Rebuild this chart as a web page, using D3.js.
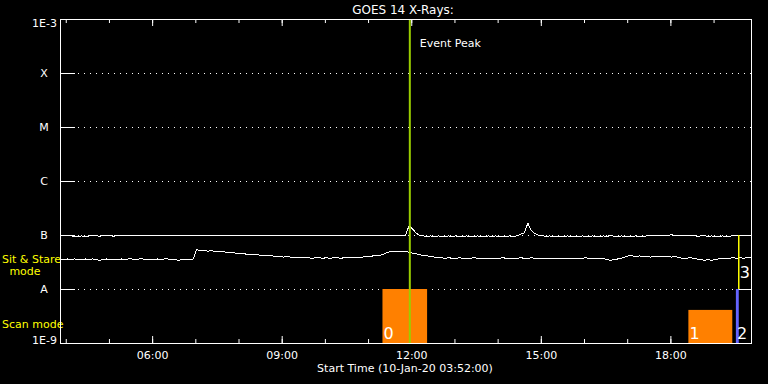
<!DOCTYPE html>
<html>
<head>
<meta charset="utf-8">
<script src="https://cdn.jsdelivr.net/npm/d3@7"></script>
<style>
  body { margin: 0; background: #000; }
  svg { display: block; }
  text { font-family: "DejaVu Sans", sans-serif; fill: #fff; }
</style>
</head>
<body>
<div id="chart"></div>
<script>
(function (d3) {
  'use strict';

  // ---- data ----
  const dayOf = [2020, 0, 10];
  const startClock = "03:52";
  const endClock = "19:52";
  const sampleMinutes = 5;

  // flux in units of 1e-9 W/m^2, one value every 5 minutes from 03:52
  const xrsUpper = [
    100, 100, 99, 97, 94, 95, 96, 93, 96, 97,
    97, 95, 98, 96, 97, 95, 97, 98, 96, 97,
    98, 97, 96, 98, 97, 99, 97, 98, 96, 98,
    97, 98, 99, 97, 98, 96, 98, 97, 99, 98,
    99, 97, 98, 99, 97, 98, 96, 98, 99, 97,
    98, 97, 99, 98, 97, 99, 98, 96, 98, 97,
    98, 99, 97, 98, 96, 98, 97, 99, 98, 97,
    98, 97, 99, 98, 96, 98, 97, 98, 99, 97,
    98, 97, 96, 98, 97, 99, 98, 97, 98, 99,
    98, 97, 99, 98, 97, 98, 99, 150, 128, 108,
    98, 96, 95, 96, 94, 96, 95, 93, 96, 95,
    96, 94, 95, 96, 93, 95, 96, 94, 95, 96,
    94, 96, 95, 93, 95, 96, 94, 97, 103, 110,
    165, 120, 106, 99, 97, 95, 96, 94, 95, 93,
    95, 96, 94, 95, 93, 96, 95, 94, 96, 95,
    94, 96, 95, 97, 95, 94, 96, 95, 93, 95,
    96, 94, 95, 96, 98, 97, 98, 96, 97, 99,
    101, 98, 99, 97, 98, 96, 97, 95, 96, 97,
    95, 96, 94, 95, 96, 94, 95, 97, 99, 100,
    100, 99, 100
  ];
  const xrsLower = [
    36, 35, 36, 35, 36, 35, 35, 36, 35, 36,
    35, 34, 35, 36, 35, 36, 35, 36, 35, 36,
    36, 35, 36, 36, 35, 36, 35, 36, 35, 36,
    36, 35, 35, 34, 35, 35, 35, 36, 54, 51,
    52, 50, 51, 50, 49, 50, 48, 48, 47, 46,
    46, 45, 44, 44, 43, 43, 42, 42, 41, 41,
    40, 40, 39, 40, 39, 39, 38, 39, 38, 38,
    37, 38, 38, 37, 38, 37, 38, 38, 37, 38,
    38, 39, 38, 39, 39, 40, 40, 41, 41, 42,
    44, 48, 49, 50, 50, 49, 49, 48, 46, 45,
    43, 42, 41, 40, 39, 38, 38, 37, 38, 37,
    37, 38, 37, 36, 37, 38, 37, 36, 37, 37,
    37, 36, 37, 38, 37, 37, 36, 37, 38, 37,
    37, 38, 37, 37, 36, 37, 37, 36, 37, 36,
    37, 36, 37, 37, 36, 37, 38, 37, 36, 37,
    36, 37, 35, 34, 35, 36, 37, 39, 41, 41,
    40, 41, 40, 40, 39, 40, 40, 39, 40, 40,
    39, 40, 38, 37, 37, 38, 37, 36, 35, 34,
    35, 34, 35, 36, 37, 36, 37, 38, 37, 38,
    37, 39, 38
  ];

  const classValues = [1e-8, 1e-7, 1e-6, 1e-5, 1e-4];
  const classLabels = ["A", "B", "C", "M", "X"];
  const decadeValues = [1e-9, 1e-3];
  const decadeLabels = ["1E-9", "1E-3"];

  const eventPeakClock = "11:58";

  const modeIds = ["0", "1", "2", "3"];
  const modeKinds = ["scan", "scan", "scanB", "stare"];
  const modeStart = ["11:20", "18:25", "19:31", "19:35"];
  const modeEnd = ["12:22", "19:26", "19:35", "19:52"];
  const modeTop = [1e-8, 4.1e-9, 1e-8, 1e-7];
  const modeBottom = [1e-9, 1e-9, 1e-9, 1e-8];

  // ---- setup ----
  const width = 768;
  const height = 384;
  const left = 60, right = 751, top = 19, bottom = 343;

  const at = function (s) {
    const p = s.split(":");
    return new Date(dayOf[0], dayOf[1], dayOf[2], +p[0], +p[1]);
  };
  const t0 = at(startClock);

  const x = d3.scaleTime()
    .domain([t0, at(endClock)])
    .range([left, right]);
  const y = d3.scaleLog()
    .domain([1e-9, 1e-3])
    .range([bottom, top]);

  const svg = d3.select("#chart").append("svg")
    .attr("width", width)
    .attr("height", height)
    .style("background", "#000");

  // dotted class levels
  svg.selectAll(".level")
    .data(classValues)
    .enter()
    .append("line")
    .attr("x1", left + 18)
    .attr("x2", right)
    .attr("y1", d => Math.round(y(d)) + 0.5)
    .attr("y2", d => Math.round(y(d)) + 0.5)
    .style("stroke", "#fff")
    .style("stroke-dasharray", "1,5");

  // axes (ticks inward)
  const styleAxis = function (g) {
    g.select(".domain").remove();
    g.selectAll("line").style("stroke", "#fff");
    g.selectAll("text")
      .style("font-family", "'DejaVu Sans', sans-serif")
      .style("font-size", "11px")
      .style("fill", "#fff");
  };

  svg.append("g")
    .attr("transform", "translate(0," + bottom + ")")
    .call(d3.axisBottom(x).ticks(d3.timeHour.every(1)).tickSize(-4).tickFormat(""))
    .call(styleAxis);
  svg.append("g")
    .attr("transform", "translate(0," + bottom + ")")
    .call(d3.axisBottom(x).ticks(d3.timeHour.every(3)).tickSize(-7).tickPadding(8)
      .tickFormat(d3.timeFormat("%H:%M")))
    .call(styleAxis);
  svg.append("g")
    .attr("transform", "translate(0," + top + ")")
    .call(d3.axisTop(x).ticks(d3.timeHour.every(1)).tickSize(-4).tickFormat(""))
    .call(styleAxis);
  svg.append("g")
    .attr("transform", "translate(0," + top + ")")
    .call(d3.axisTop(x).ticks(d3.timeHour.every(3)).tickSize(-7).tickFormat(""))
    .call(styleAxis);
  svg.append("g")
    .attr("transform", "translate(" + left + ",0)")
    .call(d3.axisLeft(y).tickValues(classValues).tickSize(-15).tickFormat(""))
    .call(styleAxis);

  // y labels
  svg.selectAll(".cls")
    .data(classValues)
    .enter()
    .append("text")
    .attr("x", 44)
    .attr("y", d => y(d) + 4)
    .style("text-anchor", "middle")
    .style("font-size", "11px")
    .text((d, i) => classLabels[i]);

  svg.selectAll(".dec")
    .data(decadeValues)
    .enter()
    .append("text")
    .attr("x", 57)
    .attr("y", d => Math.min(Math.max(y(d), 23), 340) + 4)
    .style("text-anchor", "end")
    .style("font-size", "11px")
    .text((d, i) => decadeLabels[i]);

  // mode side labels
  svg.append("text").attr("x", 2).attr("y", 263)
    .style("font-size", "11px").style("fill", "#ffff00").text("Sit & Stare");
  svg.append("text").attr("x", 25).attr("y", 275)
    .style("font-size", "11px").style("fill", "#ffff00").style("text-anchor", "middle").text("mode");
  svg.append("text").attr("x", 2).attr("y", 328)
    .style("font-size", "11px").style("fill", "#ffff00").text("Scan mode");

  // light curves
  const sampleTime = i => new Date(t0.getTime() + i * sampleMinutes * 60000);
  const line = d3.line()
    .x((d, i) => x(sampleTime(i)))
    .y(d => y(d * 1e-9));

  [xrsUpper, xrsLower].forEach(function (series) {
    svg.append("path")
      .datum(series)
      .attr("d", line)
      .style("fill", "none")
      .style("stroke", "#fff")
      .style("stroke-width", 1)
      .style("shape-rendering", "crispEdges");
  });

  // observing modes
  const modes = modeIds.map((id, i) => ({
    id: id,
    kind: modeKinds[i],
    t1: at(modeStart[i]),
    t2: at(modeEnd[i]),
    hi: modeTop[i],
    lo: modeBottom[i]
  }));

  const fillFor = { scan: "#ff8000", scanB: "#6464ff" };

  svg.selectAll(".bar")
    .data(modes.filter(d => d.kind !== "stare"))
    .enter()
    .append("rect")
    .attr("x", d => x(d.t1))
    .attr("y", d => y(d.hi))
    .attr("width", d => Math.max(x(d.t2) - x(d.t1), 2))
    .attr("height", d => y(d.lo) - y(d.hi))
    .style("fill", d => fillFor[d.kind]);

  const stare = modes.filter(d => d.kind === "stare");
  stare.forEach(function (d) {
    [d.hi, d.lo].forEach(function (v) {
      svg.append("line")
        .attr("x1", x(d.t1)).attr("x2", x(d.t2))
        .attr("y1", Math.round(y(v)) + 0.5).attr("y2", Math.round(y(v)) + 0.5)
        .style("stroke", "#fff");
    });
    svg.append("line")
      .attr("x1", x(d.t1)).attr("x2", x(d.t1))
      .attr("y1", y(d.hi)).attr("y2", y(d.lo))
      .style("stroke", "#ffff00")
      .style("stroke-width", 1.5);
  });

  svg.selectAll(".modeId")
    .data(modes)
    .enter()
    .append("text")
    .attr("x", d => x(d.t1) + 1)
    .attr("y", d => d.kind === "stare" ? y(d.lo) - 11 : y(d.lo) - 4)
    .style("font-size", "16px")
    .text(d => d.id);

  // event peak
  const ex = x(at(eventPeakClock));
  svg.append("line")
    .attr("x1", ex).attr("x2", ex)
    .attr("y1", top).attr("y2", bottom)
    .style("stroke", "#9acd00")
    .style("stroke-width", 2);
  svg.append("text")
    .attr("x", ex + 10)
    .attr("y", 47)
    .style("font-size", "11px")
    .text("Event Peak");

  // frame
  svg.append("rect")
    .attr("x", left + 0.5)
    .attr("y", top + 0.5)
    .attr("width", right - left)
    .attr("height", bottom - top)
    .style("fill", "none")
    .style("stroke", "#fff");

  // titles
  svg.append("text")
    .attr("x", 403)
    .attr("y", 14)
    .style("text-anchor", "middle")
    .style("font-size", "12px")
    .text("GOES 14 X-Rays:");
  svg.append("text")
    .attr("x", 405)
    .attr("y", 372)
    .style("text-anchor", "middle")
    .style("font-size", "11px")
    .text("Start Time (10-Jan-20 03:52:00)");
}(d3));
</script>
</body>
</html>
